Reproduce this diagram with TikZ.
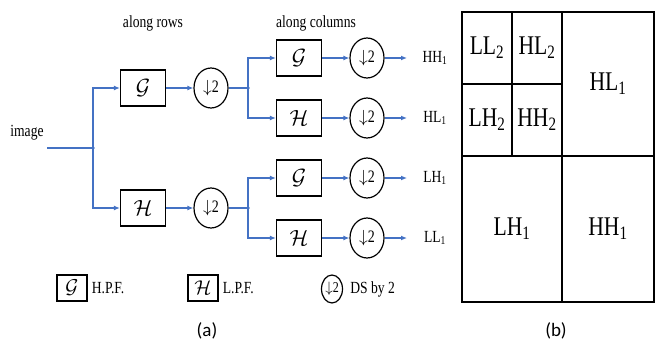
\RequirePackage{fix-cm}
\documentclass[tikz,border=0pt]{standalone}
\usepackage{fontspec}
\setmainfont[FakeStretch=0.8]{Liberation Serif}
\newfontfamily\capfont{Carlito}
\usepackage{tikz}
\usetikzlibrary{arrows.meta, positioning, shapes.geometric, calc}
\definecolor{lineblue}{RGB}{68,114,196}

\begin{document}
\begin{tikzpicture}[x=1pt, y=-1pt,
    filt/.style={rectangle, draw=black, line width=1.2pt, minimum width=45pt, minimum height=36pt, inner sep=0pt, font=\fontsize{22}{22}\selectfont},
    smallfilt/.style={filt, minimum width=30pt, minimum height=26pt, font=\fontsize{20}{20}\selectfont},
    down/.style={ellipse, draw=black, line width=1.2pt, minimum width=34pt, minimum height=40pt, inner sep=0pt, font=\fontsize{17.5}{17.5}\selectfont},
    smalldown/.style={down, minimum width=21pt, minimum height=28pt, font=\fontsize{15}{15}\selectfont},
    txt/.style={font=\fontsize{17}{17}\selectfont, inner sep=0pt},
    band/.style={font=\fontsize{27}{27}\selectfont, inner sep=0pt},
    subcap/.style={font=\capfont\fontsize{19}{19}\selectfont, inner sep=0pt},
    arrow/.style={-{Latex[length=6pt, width=5pt]}, draw=lineblue, line width=1.2pt},
    wire/.style={draw=lineblue, line width=1.2pt},
    dot/.style={circle, fill=lineblue, inner sep=0pt, minimum size=3.5pt}
]
\useasboundingbox (0,0) rectangle (656,342);

% === (a) ANALYSIS BANK ===
\node[txt] (img) at (27,133) {image};
\coordinate (in) at (47,148);
\node[dot] (j0) at (93,148) {};

\node[txt] (rows) at (153,23) {along rows};
\node[txt] (cols) at (316,23) {along columns};

\node[filt] (g1) at (143,88) {$\mathcal{G}$};
\node[filt] (h1) at (143,208) {$\mathcal{H}$};
\node[down] (d1) at (211,88) {$\downarrow$2};
\node[down] (d2) at (211,208) {$\downarrow$2};
\node[dot] (j1) at (248,88) {};
\node[dot] (j2) at (248,208) {};

\node[filt] (g11) at (299,58) {$\mathcal{G}$};
\node[filt] (h12) at (299,118) {$\mathcal{H}$};
\node[filt] (g21) at (299,178) {$\mathcal{G}$};
\node[filt] (h22) at (299,238) {$\mathcal{H}$};

\node[down] (d11) at (367,58) {$\downarrow$2};
\node[down] (d12) at (367,118) {$\downarrow$2};
\node[down] (d21) at (367,178) {$\downarrow$2};
\node[down] (d22) at (367,238) {$\downarrow$2};

\coordinate (o11) at (407,58);
\coordinate (o12) at (407,118);
\coordinate (o21) at (407,178);
\coordinate (o22) at (407,238);

\node[txt] (hh) at (435,58) {HH\textsubscript{1}};
\node[txt] (hl) at (435,118) {HL\textsubscript{1}};
\node[txt] (lh) at (435,178) {LH\textsubscript{1}};
\node[txt] (ll) at (435,238) {LL\textsubscript{1}};

% === LEGEND ===
\node[smallfilt] (lg) at (72,288) {$\mathcal{G}$};
\node[txt, right=4pt of lg] (lgt) {H.P.F.};
\node[smallfilt] (lh) at (203,288) {$\mathcal{H}$};
\node[txt, right=4pt of lh] (lht) {L.P.F.};
\node[smalldown] (ld) at (332,289) {$\downarrow$2};
\node[txt, right=7pt of ld] (ldt) {DS by 2};

\node[subcap] (capa) at (207,331) {(a)};

% === FLECHAS ===
\draw[wire] (in) -- (j0.center);
\draw[arrow] (j0.center) |- (g1.west);
\draw[arrow] (j0.center) |- (h1.west);
\draw[arrow] (g1.east) -- (d1.west);
\draw[arrow] (h1.east) -- (d2.west);
\draw[wire] (d1.east) -- (j1.center);
\draw[wire] (d2.east) -- (j2.center);
\draw[arrow] (j1.center) |- (g11.west);
\draw[arrow] (j1.center) |- (h12.west);
\draw[arrow] (j2.center) |- (g21.west);
\draw[arrow] (j2.center) |- (h22.west);

\draw[arrow] (g11.east) -- (d11.west);
\draw[arrow] (h12.east) -- (d12.west);
\draw[arrow] (g21.east) -- (d21.west);
\draw[arrow] (h22.east) -- (d22.west);
\draw[arrow] (d11.east) -- (o11);
\draw[arrow] (d12.east) -- (o12);
\draw[arrow] (d21.east) -- (o21);
\draw[arrow] (d22.east) -- (o22);

% === (b) SUBBANDS ===
\draw[line width=1.5pt] (462,12) rectangle (654,302);
\draw[line width=1.5pt] (562,12) -- (562,302);
\draw[line width=1.5pt] (462,156) -- (654,156);
\draw[line width=1.5pt] (512,12) -- (512,156);
\draw[line width=1.5pt] (462,84) -- (562,84);

\node[band] (ll2) at (487,48) {LL\textsubscript{2}};
\node[band] (hl2) at (537,48) {HL\textsubscript{2}};
\node[band] (lh2) at (487,120) {LH\textsubscript{2}};
\node[band] (hh2) at (537,120) {HH\textsubscript{2}};
\node[band] (hl1) at (608,84) {HL\textsubscript{1}};
\node[band] (lh1) at (512,229) {LH\textsubscript{1}};
\node[band] (hh1) at (608,229) {HH\textsubscript{1}};

\node[subcap] (capb) at (556,331) {(b)};

\end{tikzpicture}
\end{document}
